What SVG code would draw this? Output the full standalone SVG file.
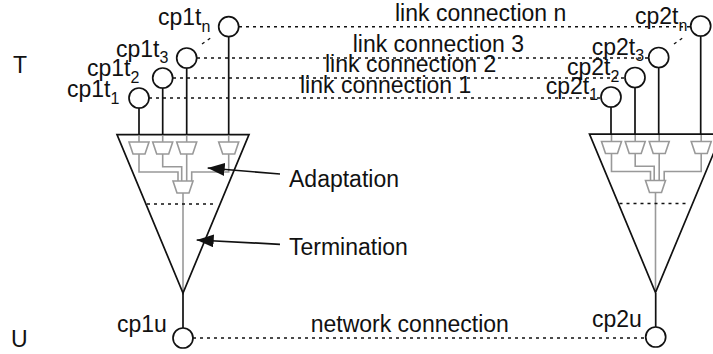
<svg xmlns="http://www.w3.org/2000/svg" width="713" height="354" viewBox="0 0 713 354">
<style>
text{font-family:"Liberation Sans",Arial,sans-serif;font-size:23px;fill:#111}
.s{font-size:16px}
.c{fill:#fff;stroke:#111;stroke-width:1.7}
.k{fill:none;stroke:#111;stroke-width:1.7}
.g{fill:none;stroke:#999;stroke-width:1.6}
.d{fill:none;stroke:#111;stroke-width:1.4;stroke-dasharray:3 4}
</style>
<defs>
<path id="tr" d="M-10 0H10L6 12H-6Z" class="g"/>
<g id="tri">
<path class="g" d="M183 193V291"/>
<path class="k" d="M117 134.700H249L183 293Z"/>
<path class="d" d="M147 204H217"/>
<use href="#tr" x="139" y="142"/><use href="#tr" x="162.700" y="142"/><use href="#tr" x="186.700" y="142"/><use href="#tr" x="228.700" y="142"/>
<path class="g" d="M139 135.500V142M162.700 135.500V142M186.700 135.500V142M228.700 135.500V142"/>
<path class="g" d="M139 154V172H178V181M162.700 154V166.700H181.700V181M186.700 154V181M228.700 154V172H191.700V181"/>
<use href="#tr" x="183" y="181"/>
</g>
<marker id="a" markerUnits="userSpaceOnUse" markerWidth="18" markerHeight="14" refX="17" refY="6.500" orient="auto"><path d="M0 0L17 6.500L0 13Z" fill="#111"/></marker>
</defs>
<g id="left-termination"><use href="#tri"/></g>
<g id="right-termination"><use href="#tri" x="472.500" y="-0.500"/></g>
<g id="connectors">
<path class="d" d="M239 26.700H691"/>
<path class="d" d="M197 58H649"/>
<path class="d" d="M173 78H625"/>
<path class="d" d="M149 98H601"/>
<path class="d" d="M193 338H646"/>
<path class="d" d="M202 44L212 37"/>
<path class="d" d="M674 44L684 37"/>
<path class="k" d="M139 98V135M162.700 78V135M186.700 58V135M228.700 27V135"/>
<path class="k" d="M611 97V135M635 78V135M658.700 58V135M700.700 27V135"/>
<path class="k" d="M183 293V328M655.700 293V327"/>
<path class="k" marker-end="url(#a)" d="M280 174L207.700 168"/>
<path class="k" marker-end="url(#a)" d="M280 244.300L196.700 240"/>
</g>
<g id="cp1t1"><circle class="c" cx="139" cy="98" r="10"/><text x="67" y="97">cp1t<tspan class="s" dy="7">1</tspan></text></g>
<g id="cp1t2"><circle class="c" cx="162.700" cy="78" r="10"/><text x="87" y="76">cp1t<tspan class="s" dy="7">2</tspan></text></g>
<g id="cp1t3"><circle class="c" cx="186.700" cy="58" r="10"/><text x="116" y="57">cp1t<tspan class="s" dy="6">3</tspan></text></g>
<g id="cp1tn"><circle class="c" cx="228.700" cy="26.700" r="10"/><text x="158" y="25">cp1t<tspan class="s" dy="7">n</tspan></text></g>
<g id="cp2t1"><circle class="c" cx="611" cy="97" r="10"/><text x="545.700" y="94">cp2t<tspan class="s" dy="6">1</tspan></text></g>
<g id="cp2t2"><circle class="c" cx="635" cy="77.500" r="10"/><text x="567" y="75">cp2t<tspan class="s" dy="7">2</tspan></text></g>
<g id="cp2t3"><circle class="c" cx="658.700" cy="57.500" r="10"/><text x="591.700" y="55">cp2t<tspan class="s" dy="6">3</tspan></text></g>
<g id="cp2tn"><circle class="c" cx="700.700" cy="26" r="10"/><text x="635" y="24">cp2t<tspan class="s" dy="7">n</tspan></text></g>
<g id="cp1u"><circle class="c" cx="183" cy="338" r="10"/><text x="117" y="331.700">cp1u</text></g>
<g id="cp2u"><circle class="c" cx="655.700" cy="337" r="10"/><text x="592" y="326.700">cp2u</text></g>
<g id="labels">
<text x="13" y="72.700">T</text><text x="11" y="347">U</text>
<text x="395" y="20.700">link connection n</text>
<text x="352.700" y="51.700">link connection 3</text>
<text x="325" y="72.300">link connection 2</text>
<text x="300" y="92.700">link connection 1</text>
<text x="310.700" y="331.700">network connection</text>
<text x="289" y="187">Adaptation</text>
<text x="289" y="255">Termination</text>
</g>
</svg>
